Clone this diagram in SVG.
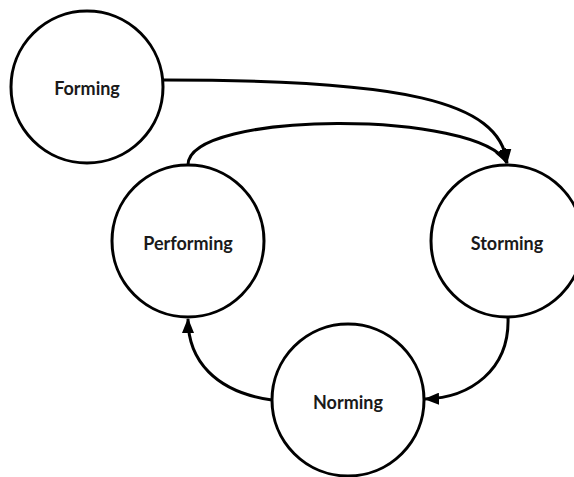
<svg xmlns="http://www.w3.org/2000/svg" width="574" height="477" viewBox="0 0 574 477">
  <style>
    .node circle { fill: #ffffff; stroke: #000000; stroke-width: 3; }
    .node text { font-family: Lato, "Open Sans", sans-serif; font-weight: bold; font-size: 18px; fill: #1a1a1a; text-anchor: middle; dominant-baseline: central; }
    .edge { fill: none; stroke: #000000; stroke-width: 3; marker-end: url(#arrow); }
  </style>
  <defs>
    <marker id="arrow" markerWidth="15" markerHeight="12" refX="14" refY="6" orient="auto" markerUnits="userSpaceOnUse">
      <path d="M0,0 L15,6 L0,12 Z" fill="#000000"/>
    </marker>
  </defs>
  <rect width="574" height="477" fill="#ffffff"/>
  <g id="connectors">
    <path class="edge" d="M164,80 C400,80 500,100 507,163"/>
    <path class="edge" d="M188,165 C188,110 480,110 507,163"/>
    <path class="edge" d="M508,317 C510,370 470,398 425,399"/>
    <path class="edge" d="M272,400 C215,392 188,360 188,319"/>
  </g>
  <g id="forming" class="node">
    <circle cx="87" cy="87" r="76"/>
    <text x="87" y="88">Forming</text>
  </g>
  <g id="performing" class="node">
    <circle cx="188" cy="241" r="76"/>
    <text x="188" y="243">Performing</text>
  </g>
  <g id="storming" class="node">
    <circle cx="507" cy="241" r="76"/>
    <text x="507" y="243">Storming</text>
  </g>
  <g id="norming" class="node">
    <circle cx="348" cy="400" r="76"/>
    <text x="348" y="402">Norming</text>
  </g>
</svg>
